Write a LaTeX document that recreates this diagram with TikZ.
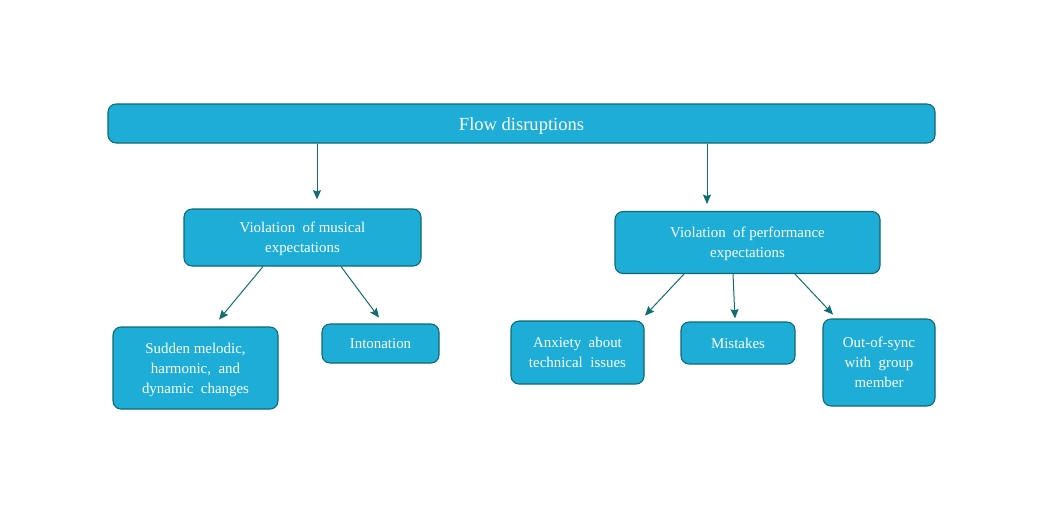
\documentclass[tikz,border=0pt]{standalone}
\usepackage{fontspec}
\setmainfont{Liberation Serif}
\usetikzlibrary{arrows.meta}
\definecolor{boxfill}{RGB}{29,173,214}
\definecolor{boxline}{RGB}{14,104,112}
\definecolor{arrcol}{RGB}{16,110,110}
\newcommand{\topst}{\rule{0pt}{0.95em}}
\newcommand{\botst}{\rule[-0.216em]{0pt}{0pt}}
\tikzset{
  box/.style={draw=boxline, line width=0.8pt, fill=boxfill, rounded corners=6pt,
    text=white, align=center, inner sep=0pt,
    font=\fontsize{11.2}{15}\selectfont},
  topbox/.style={box, font=\fontsize{13.9}{16}\selectfont},
  arr/.style={draw=arrcol, line width=0.75pt, -{Stealth[length=7pt,width=6pt,inset=1pt]}}
}
\begin{document}
\begin{tikzpicture}[x=0.75pt,y=-0.75pt]
\useasboundingbox (0,0) rectangle (1056,515);
\node[topbox, minimum width=620.25pt, minimum height=29.25pt] (top) at (521.5,123.5) {\topst Flow disruptions\botst};
\node[box, minimum width=177.75pt, minimum height=42.75pt] (mus) at (302.5,237.5) {\topst Violation\ \ of musical\\expectations\botst};
\node[box, minimum width=198.75pt, minimum height=46.5pt] (perf) at (747.5,242.5) {\topst Violation\ \ of performance\\expectations\botst};
\node[box, minimum width=123.75pt, minimum height=61.5pt] (sud) at (195.5,368) {\topst Sudden melodic,\\harmonic,\ \ and\\dynamic\ \ changes\botst};
\node[box, minimum width=87.75pt, minimum height=29.25pt] (int) at (380.5,343.5) {\topst Intonation\botst};
\node[box, minimum width=99.75pt, minimum height=47.25pt] (anx) at (577.5,352.5) {\topst Anxiety\ \ about\\technical\ \ issues\botst};
\node[box, minimum width=85.5pt, minimum height=31.5pt] (mis) at (738,343) {\topst Mistakes\botst};
\node[box, minimum width=84pt, minimum height=65.25pt] (out) at (879,362.5) {\topst Out-of-sync\\with\ \ group\\member\botst};

\draw[arr, shorten >=6.75pt] (top.south -| 317,0) -- (mus.north -| 317,0);
\draw[arr, shorten >=5.25pt] (top.south -| 707,0) -- (perf.north -| 707,0);
\draw[arr, shorten >=6.75pt] (mus.south -| 263,0) -- (sud.north -| 213.3,0);
\draw[arr, shorten >=5.5pt] (mus.south -| 341,0) -- (int.north -| 383.4,0);
\draw[arr, shorten >=5pt] (perf.south -| 684,0) -- (anx.north -| 640.4,0);
\draw[arr, shorten >=2.25pt] (perf.south -| 733,0) -- (mis.north -| 735.1,0);
\draw[arr, shorten >=4pt] (perf.south -| 795,0) -- (out.north -| 836.7,0);
\end{tikzpicture}
\end{document}
